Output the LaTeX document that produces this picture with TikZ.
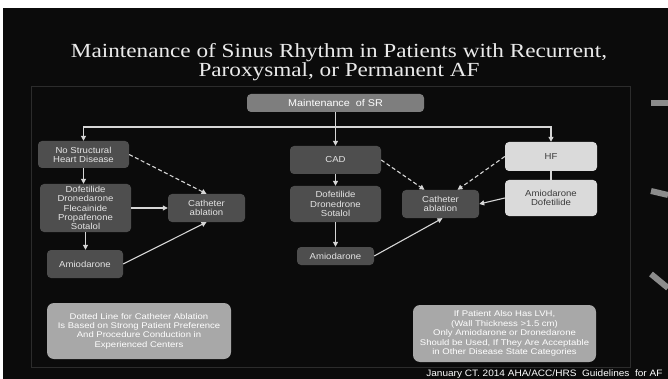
\documentclass[tikz,border=0pt]{standalone}
\usepackage{fontspec}
\usetikzlibrary{arrows.meta,calc}
\newfontfamily\sansf{Liberation Sans}[FakeStretch=1.1]
\newfontfamily\sansn{Liberation Sans}[FakeStretch=1.16]
\newfontfamily\sansc{Liberation Sans}[FakeStretch=1.08]
\newfontfamily\serf{Liberation Serif}[FakeStretch=1.16]
\definecolor{bgblack}{HTML}{0B0B0B}
\definecolor{framec}{HTML}{2C2C2C}
\definecolor{dkgray}{HTML}{4E4E4E}
\definecolor{dktext}{HTML}{E4E4E4}
\definecolor{midgray}{HTML}{7E7E7E}
\definecolor{ltgray}{HTML}{DADADA}
\definecolor{lttext}{HTML}{3C3C3C}
\definecolor{notegray}{HTML}{A8A8A8}
\definecolor{arrc}{HTML}{D6D6D6}
\definecolor{titlec}{HTML}{EAEAEA}
\definecolor{streak}{HTML}{8C8C8C}
\newcommand{\boxfont}{\sansf\fontsize{8.7}{9.2}\selectfont}
\newcommand{\notefont}{\sansn\fontsize{8.2}{9.4}\selectfont}
\tikzset{
  box/.style={rounded corners=4pt, inner sep=0pt, align=center, font=\boxfont},
  dk/.style={box, fill=dkgray, text=dktext},
  lt/.style={box, fill=ltgray, text=lttext},
  md/.style={box, fill=midgray, text=white},
  notebox/.style={box, fill=notegray, text=white, font=\notefont, rounded corners=7pt},
  arr/.style={draw=arrc, line width=1.1pt, -{Triangle[length=5pt,width=5pt]}},
  dsh/.style={arr, dash pattern=on 4pt off 2.5pt},
  ln/.style={draw=arrc, line width=1.1pt},
  streakline/.style={draw=streak, line width=6pt},
  titletext/.style={font=\serf\fontsize{20}{24}\selectfont, text=titlec, anchor=base},
}
\begin{document}
\begin{tikzpicture}[x=1pt,y=-1pt]
\useasboundingbox (0,0) rectangle (668,379);
\fill[white] (0,0) rectangle (668,379);
\fill[bgblack] (3,8) rectangle (668,379);
% decorative streaks at right edge
\draw[streakline] (651,103) -- (668,103);
\draw[streakline] (651,191) -- (668,195);
\draw[streakline] (651,274) -- (668,288);
% title
\node[titletext] (t1) at (339,58) {Maintenance of Sinus Rhythm in Patients with Recurrent,};
\node[titletext] (t2) at (339,77) {Paroxysmal, or Permanent AF};
% frame
\draw[framec, line width=1pt] (31,87) rectangle (630,367);
% nodes
\node[md, minimum width=177pt, minimum height=18pt, font=\sansf\fontsize{9.8}{10}\selectfont] (msr) at (335.5,103) {Maintenance\ \ of SR};
\node[dk, minimum width=91pt, minimum height=27pt] (nshd) at (83.5,154.5) {No Structural\\Heart Disease};
\node[dk, minimum width=91pt, minimum height=48pt] (dofL) at (85.5,208) {Dofetilide\\Dronedarone\\Flecainide\\Propafenone\\Sotalol};
\node[dk, minimum width=76pt, minimum height=28pt] (amiL) at (85,264) {Amiodarone};
\node[dk, minimum width=77pt, minimum height=28pt] (cathL) at (206.5,208) {Catheter\\ablation};
\node[dk, minimum width=91pt, minimum height=28pt] (cad) at (335.5,160) {CAD};
\node[dk, minimum width=91pt, minimum height=36pt] (dofC) at (335.5,204) {Dofetilide\\Dronedrone\\Sotalol};
\node[dk, minimum width=77pt, minimum height=18pt] (amiC) at (335.5,256) {Amiodarone};
\node[dk, minimum width=77pt, minimum height=28pt] (cathC) at (440.5,204) {Catheter\\ablation};
\node[lt, minimum width=92pt, minimum height=29pt] (hf) at (551,156.5) {HF};
\node[lt, minimum width=92pt, minimum height=36pt] (amiDof) at (551,198) {Amiodarone\\Dofetilide};
\node[notebox, minimum width=184pt, minimum height=56pt] (noteL) at (139,331) {Dotted Line for Catheter Ablation\\Is Based on Strong Patient Preference\\And Procedure Conduction in\\Experienced Centers};
\node[notebox, minimum width=183pt, minimum height=57pt] (noteR) at (504.5,333.5) {If Patient Also Has LVH,\\(Wall Thickness {>}1.5 cm)\\Only Amiodarone or Dronedarone\\Should be Used, If They Are Acceptable\\in Other Disease State Categories};
\node[font=\sansc\fontsize{9.3}{10}\selectfont, text=white, anchor=base east] (cite) at (666,376) {January CT. 2014 AHA/ACC/HRS\ \ Guidelines\ \ for AF};
% connectors
\coordinate (jL) at (83.5,127);
\coordinate (jR) at (551,127);
\draw[arr] (msr.south) -- (cad.north);
\draw[arr] (jR) -- (jL) -- (nshd.north);
\draw[arr] (jL) -- (jR) -- (hf.north);
\draw[arr] (nshd.south) -- (nshd.south |- dofL.north);
\draw[arr] (dofL.south) -- (dofL.south |- amiL.north);
\draw[arr] (dofL.east) -- (cathL.west);
\draw[dsh] (nshd.east) -- (cathL.north);
\draw[arr] (amiL.east) -- (cathL.south);
\draw[arr] (cad.south) -- (dofC.north);
\draw[arr] (dofC.south) -- (amiC.north);
\draw[dsh] (cad.east) -- ($(cathC.north)+(-16,0)$);
\draw[dsh] (hf.west) -- ($(cathC.north)+(17,0)$);
\draw[arr] (amiC.east) -- ($(cathC.south)+(2,0)$);
\draw[arr] (amiDof.west) -- (cathC.east);
\draw[ln] (hf.south) -- (amiDof.north);
\end{tikzpicture}
\end{document}
